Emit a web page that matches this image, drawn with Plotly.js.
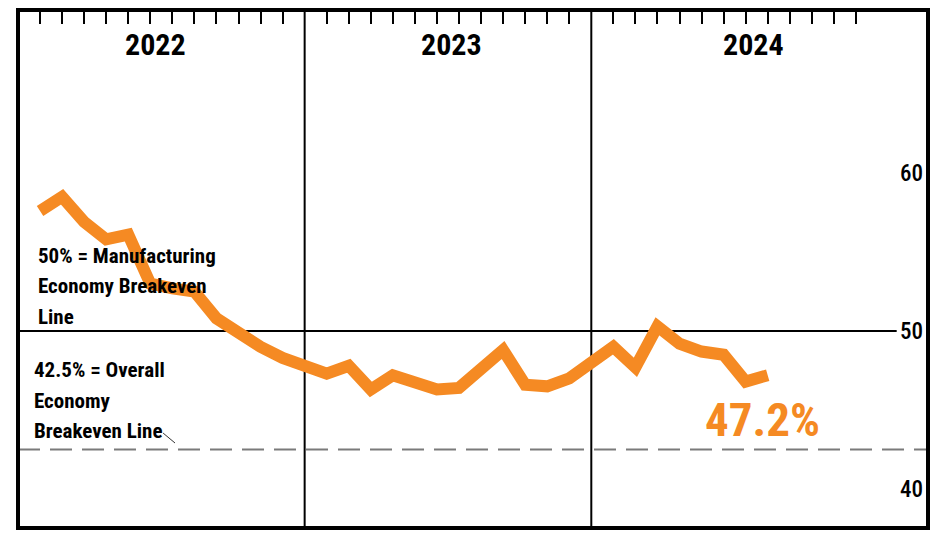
<!DOCTYPE html>
<html>
<head>
<meta charset="utf-8">
<script src="https://cdn.plot.ly/plotly-3.0.1.min.js"></script>
<style>
  html, body { margin: 0; padding: 0; background: #fff; }
  #chart { width: 938px; height: 544px; }
</style>
</head>
<body>
<div id="chart"></div>
<script>
// ---- Data (manufacturing index, monthly) ----
const years = ['2022', '2023', '2024'];
const pmi2022 = [57.6, 58.5, 56.9, 55.8, 56.1, 53.0, 52.7, 52.5, 50.8, 49.8, 49.0, 48.3];
const pmi2023 = [47.3, 47.8, 46.3, 47.2, 46.8, 46.3, 46.4, 47.6, 48.8, 46.6, 46.5, 47.0];
const pmi2024 = [49.0, 47.7, 50.3, 49.2, 48.7, 48.5, 46.8, 47.2];
const yTicks = [40, 50, 60];
const manufacturingBreakeven = 50;
const overallBreakeven = 42.5;
const latestLabel = '47.2%';
const noteManufacturingLines = ['50% = Manufacturing', 'Economy Breakeven', 'Line'];
const noteOverallLines = ['42.5% = Overall', 'Economy', 'Breakeven Line'];

// ---- Build positions: 12 month slots per year + 1 divider slot ----
const series = [pmi2022, pmi2023, pmi2024];
const SLOT = 13;
const xs = [], ys = [];
series.forEach((vals, yi) => vals.forEach((v, m) => { xs.push(yi * SLOT + m); ys.push(v); }));
const monthTicks = [];
years.forEach((y, yi) => { for (let m = 0; m < 12; m++) monthTicks.push(yi * SLOT + m); });
const dividers = [1, 2].map(i => i * SLOT - 1);

const ORANGE = '#F58A23';
const FONT = '"Roboto Condensed", Roboto, sans-serif';

const trace = {
  x: xs, y: ys, type: 'scatter', mode: 'lines',
  line: { color: ORANGE, width: 12, shape: 'linear' },
  hoverinfo: 'skip', showlegend: false
};

const shapes = [];
dividers.forEach(d => shapes.push({
  type: 'line', xref: 'x', yref: 'paper', x0: d, x1: d, y0: 0, y1: 1,
  line: { color: '#000', width: 2 }, layer: 'below'
}));
shapes.push({
  type: 'line', xref: 'x', yref: 'y', x0: -1, x1: 38.85, y0: manufacturingBreakeven, y1: manufacturingBreakeven,
  line: { color: '#000', width: 2 }, layer: 'below'
});
shapes.push({
  type: 'line', xref: 'paper', yref: 'y', x0: 0, x1: 1, y0: overallBreakeven, y1: overallBreakeven,
  line: { color: '#7a7a7a', width: 2, dash: '22px,10px' }, layer: 'below'
});
shapes.push({
  type: 'line', xref: 'x', yref: 'y', x0: 5.58, x1: 6.12, y0: 43.54, y1: 42.91,
  line: { color: '#333', width: 1 }
});
shapes.push({
  type: 'rect', xref: 'paper', yref: 'paper', x0: 0, x1: 1, y0: 0, y1: 1,
  line: { color: '#000', width: 4 }, fillcolor: 'rgba(0,0,0,0)'
});

const yearPos = [5.23, 18.68, 32.36];
const annotations = years.map((y, i) => ({
  x: yearPos[i], y: 68.16, xref: 'x', yref: 'y', text: y, showarrow: false,
  font: { family: FONT, size: 30, color: '#000', weight: 'bold' }, xanchor: 'center', yanchor: 'middle'
}));
const LINE_STEP = 1.93;
noteManufacturingLines.forEach((t, i) => annotations.push({
  x: -0.18, y: 54.75 - i * LINE_STEP, xref: 'x', yref: 'y', text: t, showarrow: false,
  xanchor: 'left', yanchor: 'middle',
  font: { family: FONT, size: 21, color: '#000', weight: 'bold' }
}));
noteOverallLines.forEach((t, i) => annotations.push({
  x: -0.36, y: 47.53 - i * LINE_STEP, xref: 'x', yref: 'y', text: t, showarrow: false,
  xanchor: 'left', yanchor: 'middle',
  font: { family: FONT, size: 21, color: '#000', weight: 'bold' }
}));
annotations.push({
  x: 32.75, y: 44.37, xref: 'x', yref: 'y', text: latestLabel, showarrow: false,
  xanchor: 'center', yanchor: 'middle',
  font: { family: FONT, size: 47, color: ORANGE, weight: 'bold' }
});

const layout = {
  width: 938, height: 544,
  margin: { l: 18, r: 10, t: 10, b: 16, pad: 0 },
  paper_bgcolor: '#fff', plot_bgcolor: '#fff',
  showlegend: false,
  xaxis: {
    range: [-1, 40.27], side: 'top', showgrid: false, zeroline: false, showline: false,
    tickmode: 'array', tickvals: monthTicks, ticks: 'inside', ticklen: 14, tickwidth: 2, tickcolor: '#000',
    showticklabels: false, fixedrange: true
  },
  yaxis: {
    range: [37.53, 70.32], side: 'right', showgrid: false, zeroline: false, showline: false,
    tickmode: 'array', tickvals: yTicks, ticktext: yTicks.map(String), ticks: '',
    ticklabelposition: 'inside', ticklabelstandoff: 2,
    tickfont: { family: FONT, size: 23, color: '#000', weight: 500 }, fixedrange: true
  },
  shapes: shapes,
  annotations: annotations
};

Plotly.newPlot('chart', [trace], layout, { displayModeBar: false, staticPlot: true });
</script>
</body>
</html>
